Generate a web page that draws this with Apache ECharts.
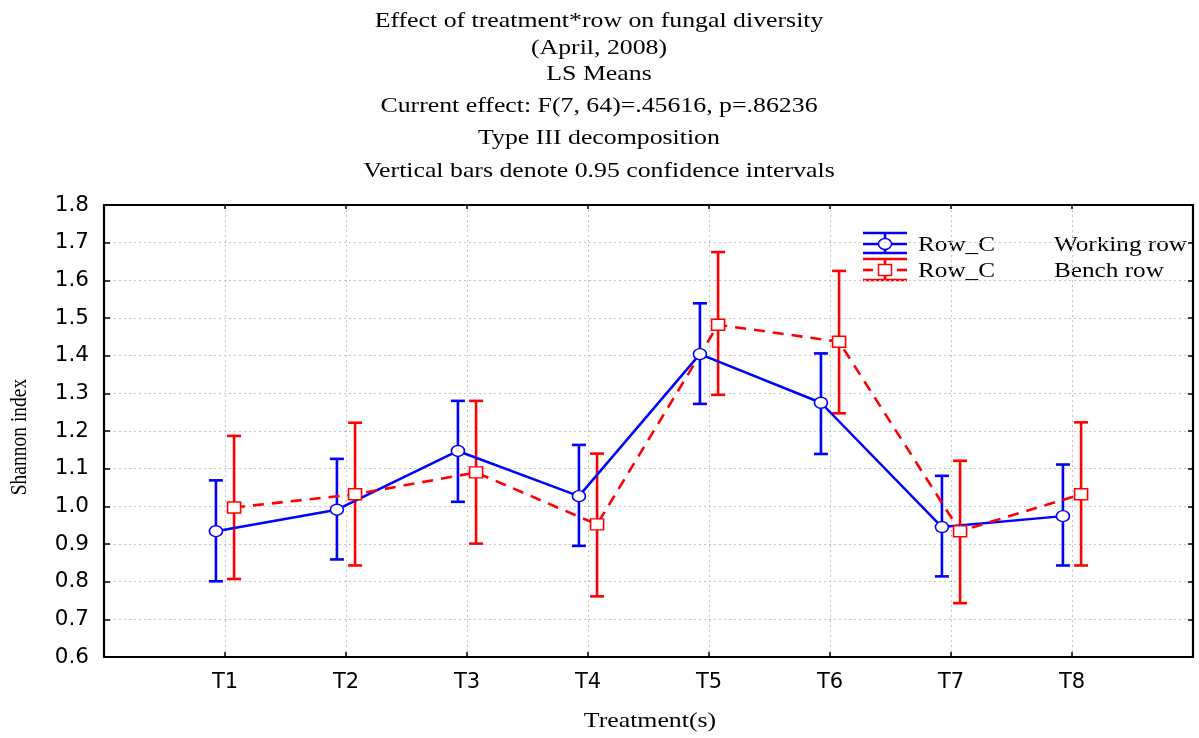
<!DOCTYPE html>
<html>
<head>
<meta charset="utf-8">
<script src="https://cdn.jsdelivr.net/npm/echarts@6/dist/echarts.min.js"></script>
<style>
  html, body { margin: 0; padding: 0; background: #fff; }
  #chart { width: 1199px; height: 738px; }
</style>
</head>
<body>
<div id="chart"></div>
<script>
// Treatments on the x axis
const treatments = ['T1', 'T2', 'T3', 'T4', 'T5', 'T6', 'T7', 'T8'];

// Working row: LS means with 0.95 confidence limits
const workingMean = [0.934, 0.991, 1.147, 1.027, 1.404, 1.275, 0.945, 0.974];
const workingLow  = [0.801, 0.859, 1.012, 0.895, 1.272, 1.139, 0.814, 0.843];
const workingHigh = [1.069, 1.126, 1.280, 1.163, 1.539, 1.406, 1.081, 1.111];

// Bench row: LS means with 0.95 confidence limits
const benchMean = [0.997, 1.032, 1.090, 0.952, 1.482, 1.437, 0.934, 1.032];
const benchLow  = [0.807, 0.843, 0.901, 0.761, 1.296, 1.247, 0.743, 0.843];
const benchHigh = [1.187, 1.222, 1.280, 1.140, 1.675, 1.625, 1.121, 1.223];

// Header lines above the plot
const titleLines = [
  'Effect of treatment*row on fungal diversity',
  '(April, 2008)',
  'LS Means',
  'Current effect: F(7, 64)=.45616, p=.86236',
  'Type III decomposition',
  'Vertical bars denote 0.95 confidence intervals'
];
const titleY = [21, 48, 74, 106, 138, 171];

const BLUE = '#0000ff';
const RED = '#ff0000';
const SERIF = '"Liberation Serif", "Times New Roman", serif';
const SANS = '"DejaVu Sans", "Liberation Sans", Arial, sans-serif';
const STRETCH = 1.2;      // horizontal stretch of serif text
const DODGE = 0.075;      // horizontal offset of the two rows around each treatment

function points(means, shift) {
  return means.map((v, i) => [i + 1 + shift, v]);
}
function intervals(low, high, shift) {
  return low.map((v, i) => [i + 1 + shift, v, high[i]]);
}

function errorBars(color) {
  return function (params, api) {
    const x = api.value(0);
    const lo = api.coord([x, api.value(1)]);
    const hi = api.coord([x, api.value(2)]);
    const cap = 7;
    const style = { stroke: color, lineWidth: 2.6 };
    return {
      type: 'group',
      children: [
        { type: 'line', shape: { x1: lo[0], y1: lo[1], x2: hi[0], y2: hi[1] }, style },
        { type: 'line', shape: { x1: hi[0] - cap, y1: hi[1], x2: hi[0] + cap, y2: hi[1] }, style },
        { type: 'line', shape: { x1: lo[0] - cap, y1: lo[1], x2: lo[0] + cap, y2: lo[1] }, style }
      ]
    };
  };
}

function serifText(text, x, y, size, extra) {
  return Object.assign({
    type: 'text', x, y, scaleX: STRETCH, silent: true,
    style: { text, font: size + 'px ' + SERIF, fill: '#000',
             textAlign: 'center', textVerticalAlign: 'middle' }
  }, extra || {});
}

const graphics = [];
titleLines.forEach((t, i) => graphics.push(serifText(t, 599, titleY[i], 21.5)));
graphics.push(serifText('Treatment(s)', 650, 721, 21.5));
graphics.push({
  type: 'text', x: 20, y: 437, rotation: Math.PI / 2, scaleY: STRETCH, silent: true,
  style: { text: 'Shannon index', font: '19.5px ' + SERIF, fill: '#000',
           textAlign: 'center', textVerticalAlign: 'middle' }
});

// Legend: error-bar glyphs with row labels
function legendGlyph(cx, yTop, yMid, yBot, color, marker, dashed) {
  const st = { stroke: color, lineWidth: 2.6 };
  const items = [
    { type: 'line', shape: { x1: cx - 22, y1: yTop, x2: cx + 22, y2: yTop }, style: st },
    { type: 'line', shape: { x1: cx - 22, y1: yBot, x2: cx + 22, y2: yBot }, style: st },
    { type: 'line', shape: { x1: cx, y1: yTop, x2: cx, y2: yBot }, style: st }
  ];
  if (dashed) {
    items.push({ type: 'line', shape: { x1: cx - 22, y1: yMid, x2: cx - 12, y2: yMid }, style: st });
    items.push({ type: 'line', shape: { x1: cx + 12, y1: yMid, x2: cx + 22, y2: yMid }, style: st });
  } else {
    items.push({ type: 'line', shape: { x1: cx - 22, y1: yMid, x2: cx + 22, y2: yMid }, style: st });
  }
  if (marker === 'circle') {
    items.push({ type: 'ellipse', shape: { cx, cy: yMid, rx: 6.5, ry: 5.5 },
                 style: { fill: '#fff', stroke: color, lineWidth: 1.5 } });
  } else {
    items.push({ type: 'rect', shape: { x: cx - 6.5, y: yMid - 5.5, width: 13, height: 11 },
                 style: { fill: '#fff', stroke: color, lineWidth: 1.5 } });
  }
  return items;
}
graphics.push(...legendGlyph(885, 233, 244, 253, BLUE, 'circle', false));
graphics.push(...legendGlyph(885, 259, 270, 280, RED, 'rect', true));
function legendText(text, x, y) {
  return {
    type: 'text', x, y, scaleX: STRETCH, silent: true,
    style: { text, font: '21px ' + SERIF, fill: '#000',
             textAlign: 'left', textVerticalAlign: 'middle' }
  };
}
graphics.push(legendText('Row_C', 918, 245));
graphics.push(legendText('Working row', 1054, 245));
graphics.push(legendText('Row_C', 918, 271));
graphics.push(legendText('Bench row', 1054, 271));

const chart = echarts.init(document.getElementById('chart'), null, { renderer: 'canvas' });

const frameLine = { show: true, onZero: false, lineStyle: { color: '#000', width: 2.2 } };
const innerTick = (len) => ({ show: true, inside: true, length: len, lineStyle: { color: '#000', width: 1.5 } });
const gridDots = { show: true, lineStyle: { color: '#c4c4c4', type: [2, 3], width: 1 } };

const option = {
  backgroundColor: '#fff',
  animation: false,
  grid: { left: 104, right: 6, top: 205, bottom: 81 },
  xAxis: [{
    type: 'value', min: 0, max: treatments.length + 1, interval: 1, position: 'bottom',
    axisLine: frameLine,
    axisTick: innerTick(5),
    axisLabel: {
      margin: 15, color: '#000', fontFamily: SANS, fontSize: 21,
      formatter: v => treatments[v - 1] || ''
    },
    splitLine: gridDots
  }, {
    type: 'value', min: 0, max: treatments.length + 1, interval: 1, position: 'top',
    axisLine: frameLine,
    axisTick: innerTick(4),
    axisLabel: { show: false },
    splitLine: { show: false }
  }],
  yAxis: [{
    type: 'value', min: 0.6, max: 1.8, interval: 0.1,
    axisLine: frameLine,
    axisTick: innerTick(6),
    axisLabel: {
      margin: 15, color: '#000', fontFamily: SANS, fontSize: 21.5,
      formatter: v => v.toFixed(1)
    },
    splitLine: gridDots
  }, {
    type: 'value', min: 0.6, max: 1.8, interval: 0.1, position: 'right',
    axisLine: frameLine,
    axisTick: innerTick(5),
    axisLabel: { show: false },
    splitLine: { show: false }
  }],
  graphic: graphics,
  series: [
    {
      name: 'Working row CI', type: 'custom', z: 3,
      renderItem: errorBars(BLUE),
      data: intervals(workingLow, workingHigh, -DODGE)
    },
    {
      name: 'Bench row CI', type: 'custom', z: 3,
      renderItem: errorBars(RED),
      data: intervals(benchLow, benchHigh, DODGE)
    },
    {
      name: 'Working row', type: 'line', z: 4,
      data: points(workingMean, -DODGE),
      symbol: 'circle', symbolSize: [13, 11],
      lineStyle: { color: BLUE, width: 2.5 },
      itemStyle: { color: '#fff', borderColor: BLUE, borderWidth: 1.5 }
    },
    {
      name: 'Bench row', type: 'line', z: 4,
      data: points(benchMean, DODGE),
      symbol: 'rect', symbolSize: [13, 11],
      lineStyle: { color: RED, width: 2.6, type: [11, 8] },
      itemStyle: { color: '#fff', borderColor: RED, borderWidth: 1.5 }
    }
  ]
};

chart.setOption(option);
</script>
</body>
</html>
